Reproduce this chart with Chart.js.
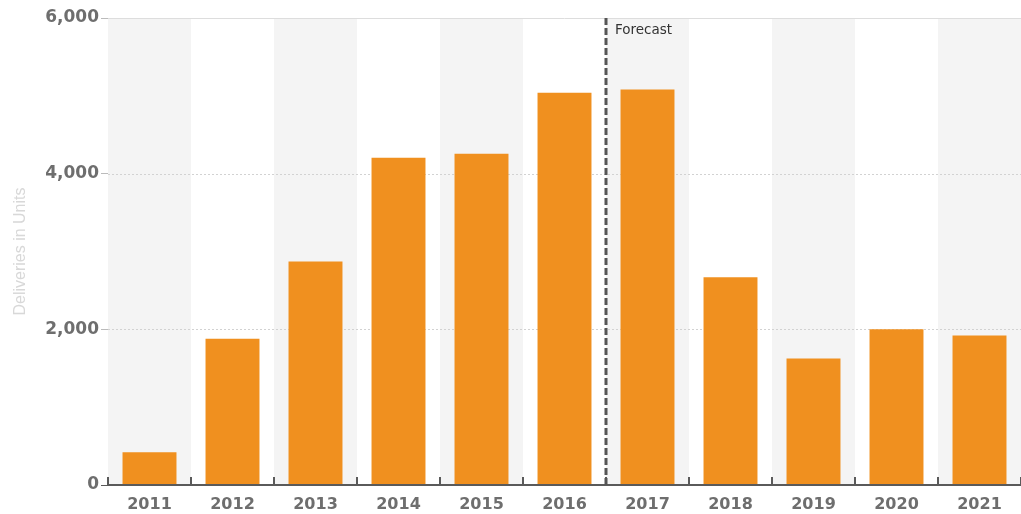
<!DOCTYPE html>
<html>
<head>
<meta charset="utf-8">
<script src="https://cdn.jsdelivr.net/npm/chart.js@4"></script>
<style>
  html, body { margin: 0; padding: 0; background: #fff; }
  #wrap { width: 1021px; height: 514px; position: relative; }
</style>
</head>
<body>
<div id="wrap"><canvas id="chartDeliveries"></canvas></div>
<script>
const years = ['2011', '2012', '2013', '2014', '2015', '2016', '2017', '2018', '2019', '2020', '2021']
const deliveries = [420, 1880, 2870, 4205, 4255, 5040, 5080, 2670, 1625, 2000, 1920]
const yTicks = [0, 2000, 4000, 6000]
const forecastFrom = '2017'

// fondos alternos, rejilla, marcas del eje x y la linea de pronostico
const decorations = {
  id: 'decorations',
  beforeDatasetsDraw(chart) {
    const { ctx, chartArea: a, scales: { x, y } } = chart
    const step = x.getPixelForValue(1) - x.getPixelForValue(0)
    ctx.save()
    years.forEach((yr, i) => {
      if (i % 2 === 0) {
        const cx = x.getPixelForValue(i)
        ctx.fillStyle = '#f4f4f4'
        ctx.fillRect(cx - step / 2, a.top, step, a.bottom - a.top)
      }
    })
    yTicks.forEach(v => {
      if (v === 0) return
      const py = Math.round(y.getPixelForValue(v)) + 0.5
      ctx.strokeStyle = v === 6000 ? '#dddddd' : '#d2d2d2'
      ctx.lineWidth = 1
      ctx.setLineDash(v === 6000 ? [] : [2, 2])
      ctx.beginPath()
      ctx.moveTo(a.left, py)
      ctx.lineTo(a.right, py)
      ctx.stroke()
    })
    ctx.restore()
  },
  afterDatasetsDraw(chart) {
    const { ctx, chartArea: a, scales: { x, y } } = chart
    const step = x.getPixelForValue(1) - x.getPixelForValue(0)
    ctx.save()
    // eje x
    ctx.strokeStyle = '#5a5a5a'
    ctx.lineWidth = 2
    ctx.beginPath()
    ctx.moveTo(a.left, a.bottom)
    ctx.lineTo(a.right, a.bottom)
    ctx.stroke()
    for (let i = 0; i <= years.length; i++) {
      const px = x.getPixelForValue(0) - step / 2 + i * step
      ctx.beginPath()
      ctx.moveTo(px, a.bottom)
      ctx.lineTo(px, a.bottom - 8)
      ctx.stroke()
    }
    // linea de pronostico
    const fi = years.indexOf(forecastFrom)
    const fx = x.getPixelForValue(fi) - step / 2
    ctx.strokeStyle = '#555555'
    ctx.lineWidth = 3
    ctx.setLineDash([7, 3])
    ctx.beginPath()
    ctx.moveTo(fx, a.top)
    ctx.lineTo(fx, a.bottom)
    ctx.stroke()
    ctx.setLineDash([])
    ctx.fillStyle = '#333333'
    ctx.font = '13.5px "DejaVu Sans", sans-serif'
    ctx.textBaseline = 'middle'
    ctx.fillText('Forecast', fx + 9, a.top + 12)
    ctx.restore()
  },
}

const ctx = document.getElementById('chartDeliveries').getContext('2d')

new Chart(ctx, {
  type: 'bar',
  data: {
    labels: years,
    datasets: [
      {
        label: 'Deliveries',
        data: deliveries,
        backgroundColor: '#f0901f',
        borderWidth: 0,
        categoryPercentage: 1,
        barPercentage: 0.65,
      },
    ],
  },
  options: {
    responsive: true,
    maintainAspectRatio: false,
    animation: false,
    layout: { padding: { top: 18, right: 0, bottom: 0, left: 0 } },
    plugins: {
      legend: { display: false },
      tooltip: { enabled: false },
    },
    scales: {
      x: {
        grid: { display: false },
        border: { display: false },
        ticks: {
          color: '#6e6e6e',
          padding: 2,
          font: { family: '"DejaVu Sans", sans-serif', size: 16, weight: 'bold' },
        },
        afterFit: s => { s.height = 29 },
      },
      y: {
        min: 0,
        max: 6000,
        afterBuildTicks: s => { s.ticks = yTicks.map(v => ({ value: v })) },
        grid: {
          drawOnChartArea: false,
          color: '#bbbbbb',
          tickLength: 7,
          tickColor: ctx2 => (ctx2.tick && ctx2.tick.value === 0 ? '#5a5a5a' : '#bbbbbb'),
        },
        border: { display: false },
        ticks: {
          color: '#6e6e6e',
          padding: 2,
          font: { family: '"DejaVu Sans", sans-serif', size: 17, weight: 'bold' },
          callback: v => v.toLocaleString('en-US'),
        },
        title: {
          display: true,
          text: 'Deliveries in Units',
          color: '#d8d8d8',
          padding: { top: 11, bottom: 0 },
          font: { family: '"Liberation Sans", Arial, sans-serif', size: 16 },
        },
        afterFit: s => { s.width = 108 },
      },
    },
  },
  plugins: [decorations],
})
</script>
</body>
</html>
